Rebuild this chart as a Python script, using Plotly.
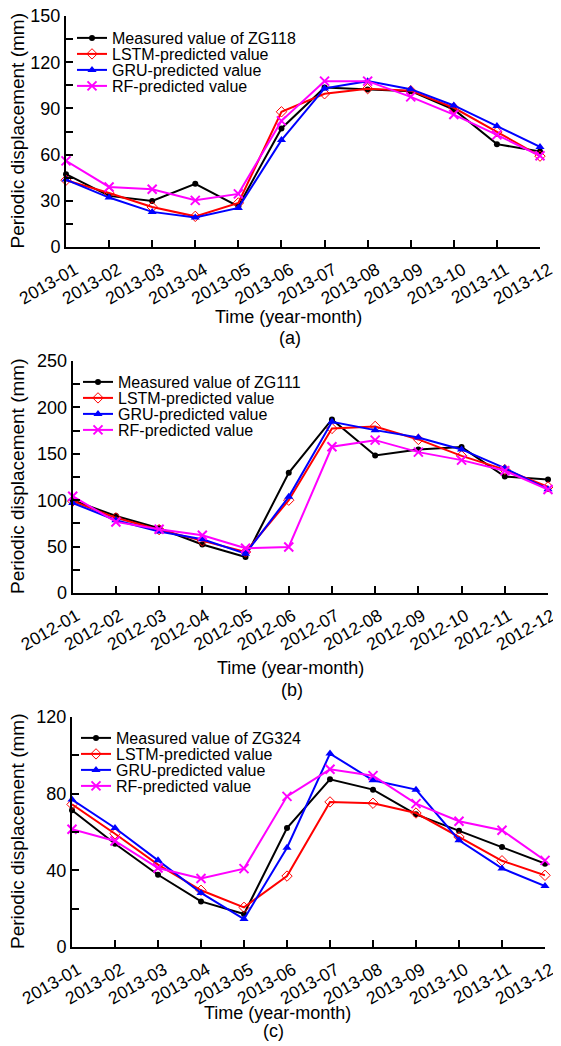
import plotly.graph_objects as go

# The page body has an 8px margin; the figure fills the window from there.
OFF = 8
W, H = 561 - OFF, 1046 - OFF

months_a = ["2013-01", "2013-02", "2013-03", "2013-04", "2013-05", "2013-06",
            "2013-07", "2013-08", "2013-09", "2013-10", "2013-11", "2013-12"]
months_b = ["2012-01", "2012-02", "2012-03", "2012-04", "2012-05", "2012-06",
            "2012-07", "2012-08", "2012-09", "2012-10", "2012-11", "2012-12"]
months_c = months_a

# Panel (a) ZG118
meas_a = [47.3, 33.2, 29.9, 41.0, 26.4, 77.0, 103.6, 102.3, 101.2, 89.3, 66.8, 62.0]
lstm_a = [43.4, 35.1, 26.0, 19.9, 28.6, 87.8, 99.5, 102.8, 101.5, 90.4, 74.8, 59.0]
gru_a = [43.8, 32.1, 22.8, 19.1, 25.4, 69.4, 103.0, 107.7, 102.5, 91.9, 78.5, 65.0]
rf_a = [55.9, 39.0, 37.5, 30.3, 34.5, 81.9, 107.7, 107.7, 97.5, 86.0, 72.8, 59.2]

# Panel (b) ZG111
meas_b = [100.0, 83.0, 69.8, 52.2, 38.8, 129.5, 187.0, 148.2, 154.7, 157.2, 125.5, 122.3]
lstm_b = [99.0, 81.0, 68.3, 56.1, 44.2, 100.0, 177.3, 179.5, 165.5, 147.8, 133.0, 114.4]
gru_b = [97.0, 78.4, 66.2, 57.9, 42.4, 103.6, 184.5, 175.5, 167.6, 154.7, 134.5, 111.9]
rf_b = [104.3, 76.6, 68.7, 62.2, 48.2, 49.6, 157.6, 164.7, 151.8, 143.2, 131.7, 111.5]

# Panel (c) ZG324
meas_c = [71.3, 53.9, 37.7, 23.8, 17.2, 62.1, 87.5, 82.1, 69.2, 60.7, 52.2, 43.5]
lstm_c = [74.4, 59.1, 43.0, 29.6, 20.7, 37.0, 75.7, 75.0, 69.9, 57.4, 45.0, 37.4]
gru_c = [76.9, 62.1, 45.2, 28.2, 14.6, 51.8, 100.9, 87.0, 82.1, 55.7, 41.0, 31.8]
rf_c = [61.4, 55.3, 41.2, 35.7, 40.9, 78.6, 92.7, 89.4, 74.8, 65.6, 60.9, 45.2]

panels = [
    dict(months=months_a, station="ZG118", series=[meas_a, lstm_a, gru_a, rf_a],
         ymax=150, dtick=30, minor=15, x0=66, x1=540, ytop=16, ybot=247, shift=9,
         legx=72, legy=[38, 54, 70, 86], xt=317, xtx=288, lab="(a)", laby=338, labx=290),
    dict(months=months_b, station="ZG111", series=[meas_b, lstm_b, gru_b, rf_b],
         ymax=250, dtick=50, minor=25, x0=72.7, x1=548, ytop=361, ybot=593, shift=4,
         legx=78, legy=[382, 398, 414, 430], xt=668, xtx=290, lab="(b)", laby=690, labx=292),
    dict(months=months_c, station="ZG324", series=[meas_c, lstm_c, gru_c, rf_c],
         ymax=120, dtick=40, minor=20, x0=72, x1=545, ytop=717, ybot=947, shift=6,
         legx=76, legy=[738, 754, 770, 786], xt=1013, xtx=277, lab="(c)", laby=1031, labx=273),
]

styles = [
    dict(color="#000000", symbol="circle", size=6, lw=0),
    dict(color="#FF0000", symbol="diamond-open", size=8, lw=1),
    dict(color="#0000FF", symbol="triangle-up", size=8, lw=0),
    dict(color="#FF00FF", symbol="x-thin-open", size=9, lw=2),
]


def fx(px):
    return (px - OFF) / W


def fy(py):
    return 1 - (py - OFF) / H


FONT = "Liberation Sans, Arial, sans-serif"
fig = go.Figure()
layout = dict(width=W, height=H, margin=dict(l=0, r=0, t=0, b=0), showlegend=True,
              plot_bgcolor="white", paper_bgcolor="white",
              font=dict(family=FONT, size=16, color="black"), annotations=[])

leg_idx = 0
for i, p in enumerate(panels):
    k = "" if i == 0 else str(i + 1)
    names = [f"Measured value of {p['station']}", "LSTM-predicted value",
             "GRU-predicted value", "RF-predicted value"]
    for j, (vals, nm, st) in enumerate(zip(p["series"], names, styles)):
        leg_idx += 1
        legname = "legend" if leg_idx == 1 else f"legend{leg_idx}"
        fig.add_trace(go.Scatter(
            x=list(range(12)), y=vals, name=nm, mode="lines+markers",
            xaxis="x" + k, yaxis="y" + k, legend=legname, cliponaxis=False,
            showlegend=True,
            line=dict(color=st["color"], width=2),
            marker=dict(symbol=st["symbol"], size=st["size"], color=st["color"],
                        line=dict(color=st["color"], width=st["lw"]))))
        layout[legname] = dict(
            x=fx(p["legx"]), y=fy(p["legy"][j]), xanchor="left", yanchor="middle",
            bgcolor="rgba(0,0,0,0)", font=dict(size=16, family=FONT),
            itemwidth=30, borderwidth=0, visible=True)
    layout["xaxis" + k] = dict(
        domain=[fx(p["x0"]), fx(p["x1"])], anchor="y" + k, range=[0, 11],
        tickvals=list(range(12)), ticktext=p["months"], tickangle=-30,
        ticks="inside", ticklen=7, tickwidth=1.5, tickcolor="black",
        showline=True, linecolor="black", linewidth=2, showgrid=False,
        zeroline=False, automargin=False, ticklabeloverflow="allow",
        ticklabelshift=p["shift"], ticklabelstandoff=4,
        tickfont=dict(size=17.5, family=FONT))
    layout["yaxis" + k] = dict(
        domain=[fy(p["ybot"]), fy(p["ytop"])], anchor="x" + k,
        range=[0, p["ymax"]], dtick=p["dtick"], tick0=0,
        ticks="inside", ticklen=7, tickwidth=1.5, tickcolor="black",
        minor=dict(dtick=p["minor"], ticks="inside", ticklen=7, tickcolor="black", tickwidth=1.5),
        showline=True, linecolor="black", linewidth=2, showgrid=False,
        zeroline=False, automargin=False, ticklabeloverflow="allow",
        tickfont=dict(size=18, family=FONT))
    layout["annotations"].append(dict(
        text="Periodic displacement (mm)", textangle=-90,
        x=fx(17), y=fy((p["ytop"] + p["ybot"]) / 2), xref="paper", yref="paper",
        showarrow=False, xanchor="center", yanchor="middle", font=dict(size=19, family=FONT)))
    layout["annotations"].append(dict(
        text="Time (year-month)", x=fx(p["xtx"]), y=fy(p["xt"]), xref="paper", yref="paper",
        showarrow=False, xanchor="center", yanchor="middle", font=dict(size=18, family=FONT)))
    layout["annotations"].append(dict(
        text=p["lab"], x=fx(p["labx"]), y=fy(p["laby"]), xref="paper", yref="paper",
        showarrow=False, xanchor="center", yanchor="middle", font=dict(size=18, family=FONT)))

fig.update_layout(**layout)
fig.write_html("out.html")
